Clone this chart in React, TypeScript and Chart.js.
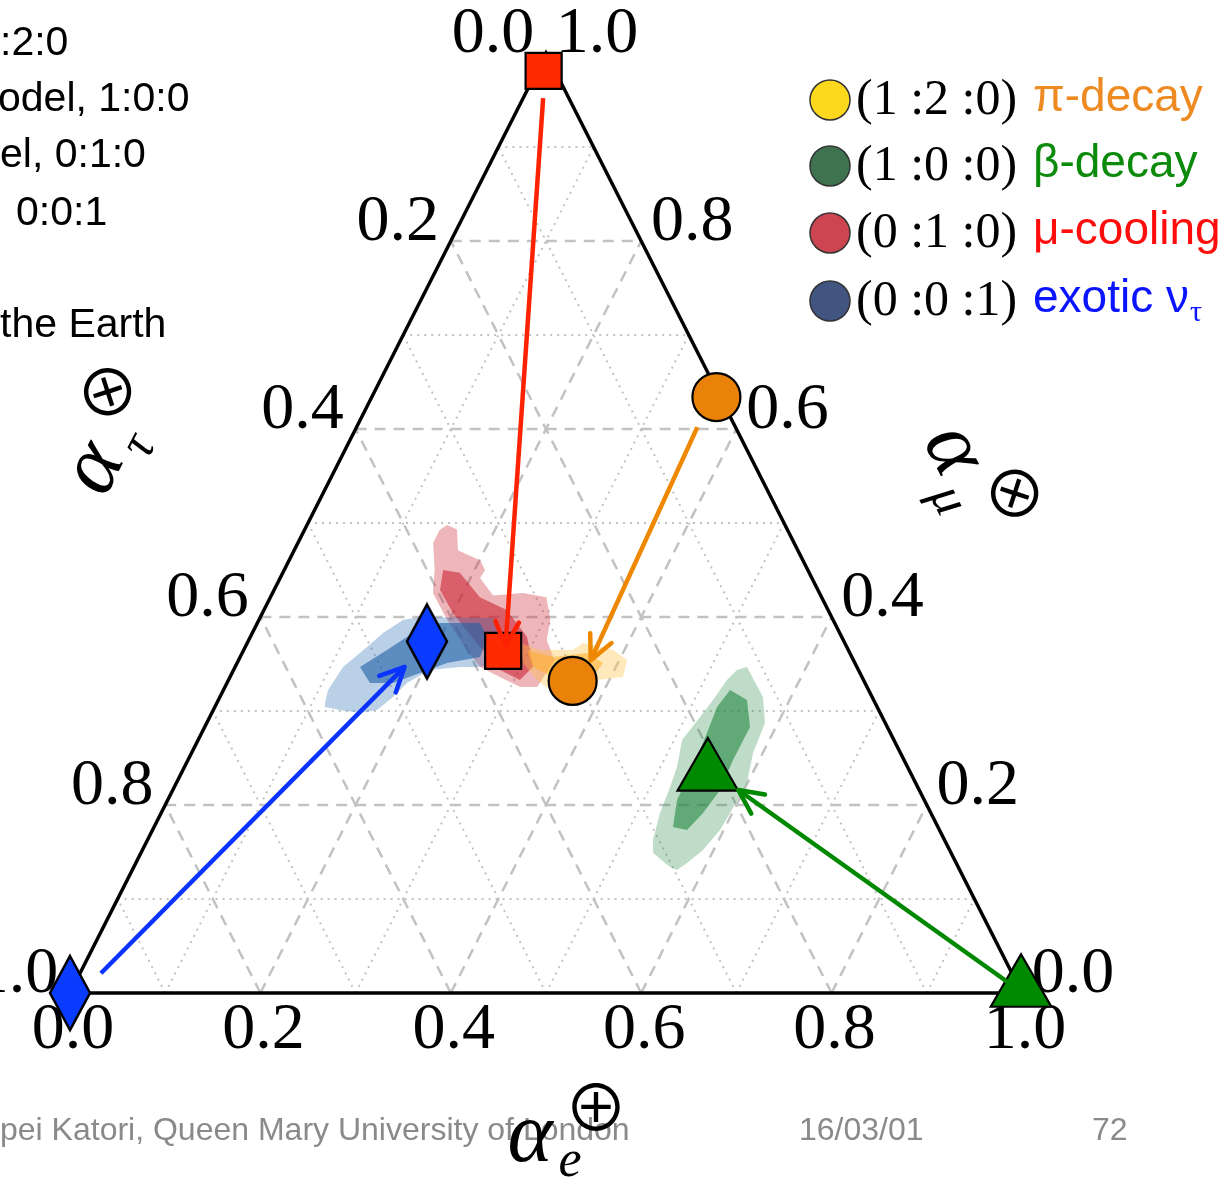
import React, { useEffect, useRef } from "react";
import { Chart, registerables } from "chart.js";

Chart.register(...registerables);

const CANVAS_W = 1231;
const CANVAS_H = 1178;

// ternary axes: tick values / labels (identical on all three axes)
const TICK_VALUES = [0, 0.2, 0.4, 0.6, 0.8, 1.0];
const TICK_LABELS = ["0.0", "0.2", "0.4", "0.6", "0.8", "1.0"];
const GRID_DASHED = [0.2, 0.4, 0.6, 0.8];
const GRID_DOTTED = [0.1, 0.3, 0.5, 0.7, 0.9];

// scenarios
const SCENARIO_NAMES = ["π-decay", "β-decay", "μ-cooling", "exotic ν"];
const SCENARIO_SUBS = ["", "", "", "τ"];
const SCENARIO_RATIOS = ["(1 :2 :0)", "(1 :0 :0)", "(0 :1 :0)", "(0 :0 :1)"];
const LEGEND_DOT = ["#fdd81c", "#3f7350", "#cc4550", "#415580"];
const LABEL_COLOR = ["#ee8a22", "#0b8a0b", "#ff0d0d", "#0a14ff"];

// flavour composition at the source (alpha_e, alpha_mu); alpha_tau = 1 - e - mu
const SOURCE_E = [0.362, 0.997, 0.007, 0.0];
const SOURCE_MU = [0.634, 0.004, 0.981, 0.0];
// flavour composition at Earth
const EARTH_E = [0.362, 0.553, 0.273, 0.188];
const EARTH_MU = [0.332, 0.234, 0.364, 0.374];
// arrows source -> Earth
const ARROW_FROM_E = [0.358, 0.985, 0.021, 0.022];
const ARROW_FROM_MU = [0.602, 0.0085, 0.952, 0.021];
const ARROW_TO_E = [0.370, 0.594, 0.273, 0.178];
const ARROW_TO_MU = [0.354, 0.216, 0.369, 0.347];

const MARKER_FILL = ["#ea820a", "#008a00", "#ff2a00", "#0a3cff"];
const ARROW_COLOR = ["#ee8800", "#008800", "#ff2200", "#0a33ff"];
const MARKER_RADIUS = [24, 35, 25.5, 20];

// allowed regions at Earth, outlines as [alpha_e, alpha_mu]
const RED_OUTER = [
  [0.147, 0.498], [0.160, 0.493], [0.172, 0.471], [0.201, 0.460], [0.211, 0.450],
  [0.210, 0.4415], [0.233, 0.423], [0.263, 0.4255], [0.290, 0.421], [0.306, 0.397],
  [0.313, 0.3755], [0.332, 0.354], [0.328, 0.3255], [0.310, 0.3255], [0.284, 0.336],
  [0.257, 0.347], [0.2345, 0.365], [0.1975, 0.397], [0.1685, 0.4255], [0.158, 0.450],
  [0.142, 0.479], [0.142, 0.4925],
];
const RED_INNER = [
  [0.167, 0.450], [0.186, 0.447], [0.220, 0.421], [0.255, 0.4075], [0.2905, 0.379],
  [0.313, 0.347], [0.306, 0.333], [0.280, 0.3436], [0.2415, 0.372], [0.2003, 0.404],
  [0.1743, 0.4287],
];
const BLUE_OUTER = [
  [0.1136, 0.3085], [0.110, 0.3223], [0.1134, 0.3468], [0.128, 0.368], [0.1373, 0.383],
  [0.1514, 0.3968], [0.1676, 0.400], [0.2448, 0.399], [0.257, 0.3894], [0.2719, 0.349],
  [0.2541, 0.3468], [0.2363, 0.3468], [0.2062, 0.3436], [0.189, 0.3298], [0.1818, 0.315],
  [0.172, 0.301], [0.1557, 0.2979], [0.1331, 0.301], [0.1157, 0.3043],
];
const BLUE_INNER = [
  [0.1312, 0.3468], [0.1505, 0.365], [0.1688, 0.383], [0.1919, 0.3936], [0.2339, 0.3936],
  [0.2487, 0.3787], [0.252, 0.3574], [0.2205, 0.351], [0.1974, 0.3404], [0.1744, 0.3298],
  [0.1502, 0.3298],
];
const ORANGE_OUTER = [
  [0.2866, 0.3723], [0.3112, 0.365], [0.3459, 0.365], [0.3528, 0.3723], [0.3879, 0.365],
  [0.408, 0.3543], [0.4128, 0.3362], [0.3871, 0.333], [0.3925, 0.3223], [0.3431, 0.3223],
  [0.324, 0.333], [0.3003, 0.351],
];
const ORANGE_INNER = [
  [0.2975, 0.365], [0.3287, 0.3574], [0.3622, 0.3617], [0.3844, 0.351], [0.3813, 0.3362],
  [0.3393, 0.3362], [0.3129, 0.3468],
];
const GREEN_OUTER = [
  [0.5377, 0.3468], [0.5705, 0.3149], [0.5864, 0.2872], [0.5898, 0.2553], [0.5994, 0.2234],
  [0.5976, 0.1915], [0.5961, 0.1734], [0.5889, 0.1521], [0.579, 0.1383], [0.5722, 0.1309],
  [0.5633, 0.134], [0.538, 0.1489], [0.531, 0.1628], [0.524, 0.1915], [0.5208, 0.2191],
  [0.5174, 0.2404], [0.5084, 0.2691], [0.515, 0.2936], [0.5196, 0.3117], [0.5236, 0.333],
  [0.5288, 0.3436],
];
const GREEN_INNER = [
  [0.5322, 0.3223], [0.5553, 0.3117], [0.5728, 0.283], [0.5725, 0.2479], [0.5748, 0.216],
  [0.5692, 0.1915], [0.5614, 0.1734], [0.5451, 0.1766], [0.535, 0.2053], [0.5342, 0.2404],
  [0.5308, 0.2766], [0.5275, 0.3043],
];

// slide remnants
const SLIDE_LINES = [":2:0", "odel, 1:0:0", "el, 0:1:0", "0:0:1", "the Earth"];
const FOOTER_TEXTS = ["pei Katori, Queen Mary University of London", "16/03/01", "72"];

const toXY = (e: number, mu: number) => ({ x: e + mu / 2, y: mu });

export default function App() {
  const ref = useRef<HTMLCanvasElement>(null);

  useEffect(() => {
    document.body.style.margin = "0";
    const canvas = ref.current!;

    const diamond = document.createElement("canvas");
    diamond.width = 46;
    diamond.height = 80;
    const dctx = diamond.getContext("2d")!;
    dctx.beginPath();
    dctx.moveTo(23, 3);
    dctx.lineTo(43, 40);
    dctx.lineTo(23, 77);
    dctx.lineTo(3, 40);
    dctx.closePath();
    dctx.fillStyle = MARKER_FILL[3];
    dctx.fill();
    dctx.lineWidth = 2.5;
    dctx.strokeStyle = "#000";
    dctx.stroke();

    const shapes: any[] = ["circle", "triangle", "rect", diamond];

    const regionDefs: [number[][], string, number][] = [
      [RED_OUTER, "rgba(205,40,52,0.34)", 20],
      [RED_INNER, "rgba(200,25,40,0.55)", 19],
      [BLUE_OUTER, "rgba(40,110,180,0.32)", 18],
      [BLUE_INNER, "rgba(30,95,165,0.6)", 17],
      [ORANGE_OUTER, "rgba(255,195,70,0.38)", 16],
      [ORANGE_INNER, "rgba(255,175,40,0.55)", 15],
      [GREEN_OUTER, "rgba(40,140,70,0.3)", 14],
      [GREEN_INNER, "rgba(35,135,65,0.6)", 13],
    ];

    const datasets: any[] = [];
    regionDefs.forEach(([poly, color, order]) => {
      datasets.push({
        data: poly.map(([e, mu]) => toXY(e, mu)),
        regionColor: color,
        pointRadius: 0,
        showLine: false,
        order,
        clip: false,
      });
    });
    SCENARIO_NAMES.forEach((name, i) => {
      datasets.push({
        label: name + " arrow",
        data: [toXY(ARROW_FROM_E[i], ARROW_FROM_MU[i]), toXY(ARROW_TO_E[i], ARROW_TO_MU[i])],
        showLine: true,
        borderColor: ARROW_COLOR[i],
        borderWidth: 4.5,
        pointRadius: 0,
        arrowHead: true,
        order: 1,
        clip: false,
      });
    });
    SCENARIO_NAMES.forEach((name, i) => {
      datasets.push({
        label: name,
        data: [toXY(SOURCE_E[i], SOURCE_MU[i]), toXY(EARTH_E[i], EARTH_MU[i])],
        showLine: false,
        pointStyle: shapes[i],
        pointRadius: MARKER_RADIUS[i],
        pointBackgroundColor: MARKER_FILL[i],
        pointBorderColor: "#000",
        pointBorderWidth: 2.2,
        order: 3,
        clip: false,
      });
    });

    const framePlugin = {
      id: "ternaryFrame",
      beforeDatasetsDraw(chart: any) {
        const ctx = chart.ctx;
        const xs = chart.scales.x;
        const ys = chart.scales.y;
        const P = (e: number, mu: number) => [xs.getPixelForValue(e + mu / 2), ys.getPixelForValue(mu)];
        const seg = (a: number[], b: number[]) => {
          ctx.beginPath();
          ctx.moveTo(a[0], a[1]);
          ctx.lineTo(b[0], b[1]);
          ctx.stroke();
        };
        const family = (c: number) => [
          [P(0, c), P(1 - c, c)],
          [P(c, 0), P(c, 1 - c)],
          [P(1 - c, 0), P(0, 1 - c)],
        ];
        ctx.save();
        ctx.strokeStyle = "#c2c2c2";
        ctx.lineWidth = 2;
        ctx.setLineDash([2, 5]);
        GRID_DOTTED.forEach((c) => family(c).forEach(([a, b]) => seg(a, b)));
        ctx.lineWidth = 2.5;
        ctx.setLineDash([11, 8]);
        GRID_DASHED.forEach((c) => family(c).forEach(([a, b]) => seg(a, b)));
        ctx.setLineDash([]);
        ctx.strokeStyle = "#000";
        ctx.lineWidth = 3.5;
        ctx.lineJoin = "miter";
        const A = P(0, 0), B = P(1, 0), C = P(0, 1);
        ctx.beginPath();
        ctx.moveTo(A[0], A[1]);
        ctx.lineTo(B[0], B[1]);
        ctx.lineTo(C[0], C[1]);
        ctx.closePath();
        ctx.stroke();

        ctx.fillStyle = "#000";
        ctx.font = "66px 'Liberation Serif'";
        ctx.textAlign = "center";
        ctx.textBaseline = "middle";
        TICK_VALUES.forEach((t, i) => {
          const b = P(t, 0);
          ctx.fillText(TICK_LABELS[i], b[0] + 3, b[1] + 38);
          const l = P(0, 1 - t);
          ctx.fillText(TICK_LABELS[i], l[0] - 53, l[1] - 18);
          const r = P(1 - t, t);
          ctx.fillText(TICK_LABELS[i], r[0] + 51, r[1] - 18);
        });
        ctx.restore();
      },
    };

    const regionPlugin = {
      id: "regionFill",
      beforeDatasetDraw(chart: any, args: any) {
        const ds: any = chart.data.datasets[args.index];
        if (!ds.regionColor) return;
        const ctx = chart.ctx;
        const pts = args.meta.data;
        ctx.save();
        ctx.beginPath();
        pts.forEach((p: any, i: number) => (i ? ctx.lineTo(p.x, p.y) : ctx.moveTo(p.x, p.y)));
        ctx.closePath();
        ctx.fillStyle = ds.regionColor;
        ctx.fill();
        ctx.restore();
      },
    };

    const arrowPlugin = {
      id: "arrowHeads",
      afterDatasetDraw(chart: any, args: any) {
        const ds: any = chart.data.datasets[args.index];
        if (!ds.arrowHead) return;
        const ctx = chart.ctx;
        const pts = args.meta.data;
        const a = pts[0];
        const b = pts[pts.length - 1];
        const ang = Math.atan2(b.y - a.y, b.x - a.x);
        const L = 27;
        const spread = 0.45;
        ctx.save();
        ctx.strokeStyle = ds.borderColor;
        ctx.lineWidth = ds.borderWidth;
        ctx.lineCap = "round";
        ctx.lineJoin = "round";
        ctx.beginPath();
        ctx.moveTo(b.x - L * Math.cos(ang - spread), b.y - L * Math.sin(ang - spread));
        ctx.lineTo(b.x, b.y);
        ctx.lineTo(b.x - L * Math.cos(ang + spread), b.y - L * Math.sin(ang + spread));
        ctx.stroke();
        ctx.restore();
      },
    };

    const drawTitle = (
      ctx: any, cx: number, cy: number, angle: number, sub: string, sup: string,
      subOff: number[], supOff: number[]
    ) => {
      ctx.save();
      ctx.translate(cx, cy);
      ctx.rotate(angle);
      ctx.fillStyle = "#000";
      ctx.textAlign = "center";
      ctx.textBaseline = "alphabetic";
      ctx.font = "italic 86px 'Liberation Serif'";
      ctx.fillText("α", 0, 19);
      ctx.font = "italic 52px 'Liberation Serif'";
      ctx.fillText(sub, subOff[0], subOff[1] + 11);
      ctx.font = "64px 'Noto Sans CJK JP', 'DejaVu Sans'";
      ctx.textBaseline = "middle";
      ctx.fillText(sup, supOff[0], supOff[1]);
      ctx.restore();
    };

    const textPlugin = {
      id: "slideText",
      afterDraw(chart: any) {
        const ctx = chart.ctx;
        ctx.save();
        // legend
        const rowsY = [100, 166, 233, 301];
        SCENARIO_NAMES.forEach((name, i) => {
          const y = rowsY[i];
          ctx.beginPath();
          ctx.arc(830, y, 20, 0, Math.PI * 2);
          ctx.fillStyle = LEGEND_DOT[i];
          ctx.fill();
          ctx.lineWidth = 1.5;
          ctx.strokeStyle = "#333";
          ctx.stroke();
          ctx.fillStyle = "#000";
          ctx.font = "50px 'Liberation Serif'";
          ctx.textAlign = "left";
          ctx.textBaseline = "middle";
          ctx.fillText(SCENARIO_RATIOS[i], 856, y + 1);
          ctx.fillStyle = LABEL_COLOR[i];
          ctx.font = "46px 'Liberation Sans'";
          ctx.fillText(name, 1033, y - 2);
          if (SCENARIO_SUBS[i]) {
            const w = ctx.measureText(name).width;
            ctx.font = "30px 'Liberation Serif'";
            ctx.fillText(SCENARIO_SUBS[i], 1033 + w + 1, y + 12);
          }
        });

        // slide text remnants (top-left)
        ctx.fillStyle = "#000";
        ctx.font = "41px 'Liberation Sans'";
        ctx.textAlign = "left";
        ctx.textBaseline = "alphabetic";
        const slideX = [0, -2, 0, 16, 0];
        const slideY = [55, 111, 167, 225, 337];
        SLIDE_LINES.forEach((t, i) => ctx.fillText(t, slideX[i], slideY[i]));

        // footer
        ctx.fillStyle = "#8a8a8a";
        ctx.font = "32px 'Liberation Sans'";
        const footX = [0, 799, 1092];
        FOOTER_TEXTS.forEach((t, i) => ctx.fillText(t, footX[i], 1140));

        // axis titles
        const rot = (63 * Math.PI) / 180;
        drawTitle(ctx, 98, 470, -rot, "τ", "⊗", [40, 29], [74, -27]);
        drawTitle(ctx, 950, 452, rot, "μ", "⊗", [42, 27], [66, -39]);
        drawTitle(ctx, 530, 1142, 0, "e", "⊕", [40, 23], [66, -35]);
        ctx.restore();
      },
    };

    const chart = new Chart(canvas, {
      type: "scatter",
      data: { datasets },
      options: {
        animation: false,
        responsive: false,
        events: [],
        layout: { padding: { left: 70, right: CANVAS_W - 1022, top: 53, bottom: CANVAS_H - 993 } },
        scales: {
          x: { type: "linear", min: 0, max: 1, display: false },
          y: { type: "linear", min: 0, max: 1, display: false },
        },
        plugins: { legend: { display: false }, tooltip: { enabled: false } },
      } as any,
      plugins: [framePlugin, regionPlugin, arrowPlugin, textPlugin],
    });
    return () => chart.destroy();
  }, []);

  return (
    <canvas
      ref={ref}
      width={CANVAS_W}
      height={CANVAS_H}
      style={{ display: "block", width: CANVAS_W, height: CANVAS_H }}
    />
  );
}
